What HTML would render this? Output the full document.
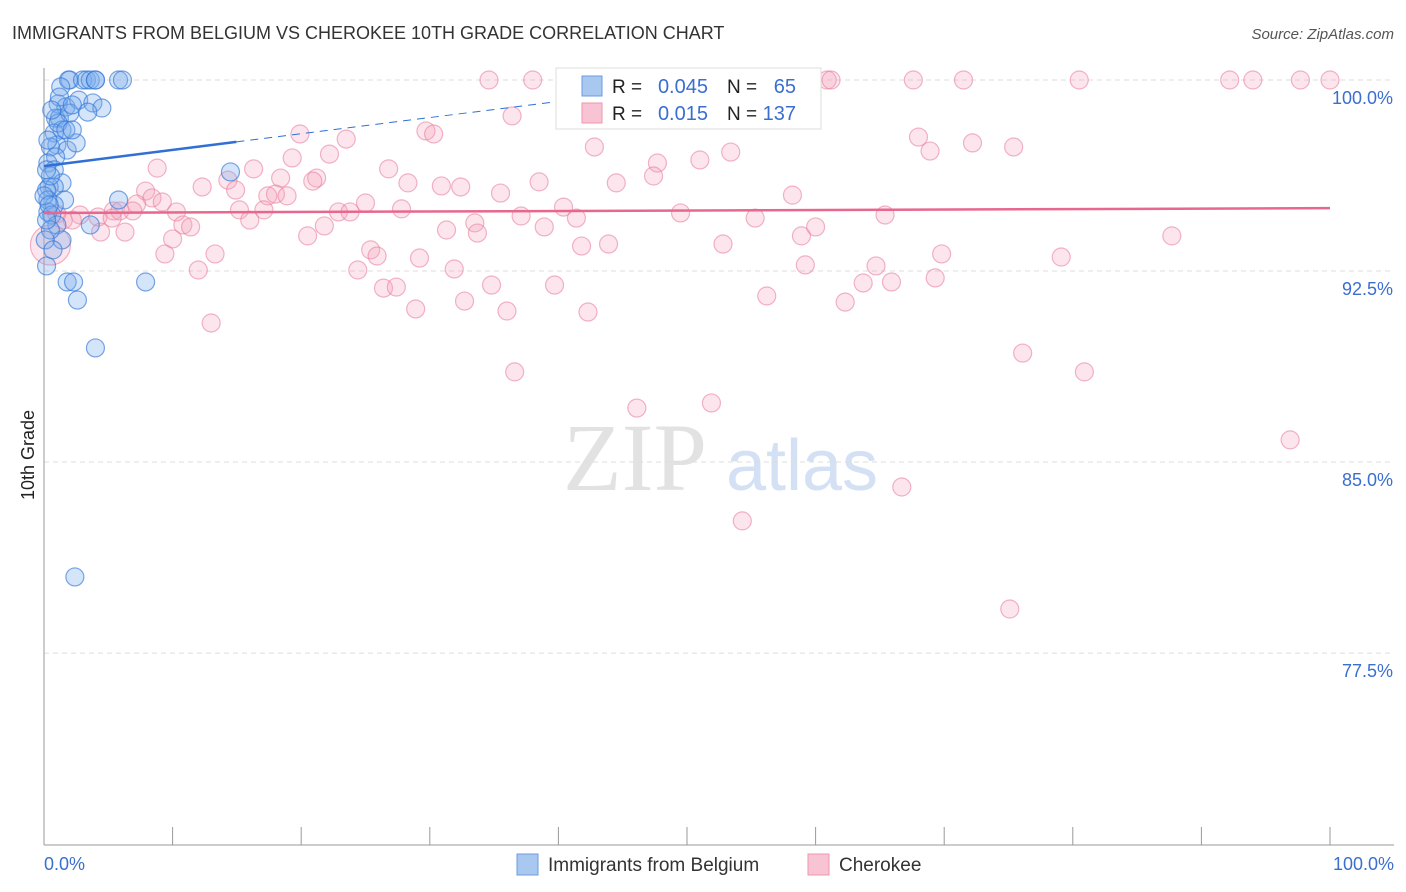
<!DOCTYPE html>
<html><head><meta charset="utf-8"><style>
body{margin:0;background:#fff;font-family:"Liberation Sans",sans-serif;}
svg{display:block}
</style></head><body>
<svg id="chart" width="1406" height="892">
<text x="12" y="39" font-size="18" fill="#333">IMMIGRANTS FROM BELGIUM VS CHEROKEE 10TH GRADE CORRELATION CHART</text>
<text x="1394" y="39" font-size="15" fill="#555" font-style="italic" text-anchor="end">Source: ZipAtlas.com</text>
<g><text x="635" y="490" font-size="96" fill="#e2e2e2" font-family="Liberation Serif,serif" text-anchor="middle">ZIP</text><text x="802" y="490" font-size="72" fill="#d4e1f4" text-anchor="middle">atlas</text></g>
<g id="grid"></g><g id="axes"></g><g id="pts"></g><g id="lines"></g>
<text x="34" y="455" font-size="18" fill="#222" transform="rotate(-90 34 455)" text-anchor="middle">10th Grade</text>
<g>
<rect x="556" y="68" width="265" height="61" fill="#fff" stroke="#ddd"/>
<rect x="582" y="76" width="20" height="20" fill="#a9c8f0" stroke="#6b9be0"/>
<rect x="582" y="103" width="20" height="20" fill="#f8c4d3" stroke="#ee94b0"/>
<text x="612" y="93" font-size="19" fill="#222">R =</text>
<text x="708" y="93" font-size="20" fill="#3a6fd0" text-anchor="end">0.045</text>
<text x="727" y="93" font-size="19" fill="#222">N =</text>
<text x="796" y="93" font-size="20" fill="#3a6fd0" text-anchor="end">65</text>
<text x="612" y="120" font-size="19" fill="#222">R =</text>
<text x="708" y="120" font-size="20" fill="#3a6fd0" text-anchor="end">0.015</text>
<text x="727" y="120" font-size="19" fill="#222">N =</text>
<text x="796" y="120" font-size="20" fill="#3a6fd0" text-anchor="end">137</text>
</g>
<g>
<rect x="517" y="854" width="21" height="21" fill="#a9c8f0" stroke="#6b9be0"/>
<text x="548" y="871" font-size="19" fill="#333">Immigrants from Belgium</text>
<rect x="808" y="854" width="21" height="21" fill="#f8c4d3" stroke="#ee94b0"/>
<text x="839" y="871" font-size="19" fill="#333">Cherokee</text>
</g>
</svg>
<script>
const yTicks=[100,92.5,85,77.5];
const yTickLabels=["100.0%","92.5%","85.0%","77.5%"];
const xTickLabels=["0.0%","100.0%"];
const blueX=[1.9,2.0,3.0,3.3,3.6,4.0,5.8,6.1,1.3,1.1,1.7,2.7,3.8,4.5,0.9,1.2,2.0,3.4,1.4,0.8,1.0,1.8,2.5,0.5,0.9,0.3,0.8,1.4,0.4,0.8,0.2,1.6,0.3,0.8,0.3,0.6,1.0,1.4,3.6,5.8,14.5,0.2,1.8,2.3,2.6,7.9,4.0,2.4,0.5,0.2,0,0.5,1.2,2.2,1.1,0.3,0.2,0.4,4.0,0.6,1.7,0.1,2.2,0.7];
const blueY=[100,100,100,100,100,100,100,100,99.73,99.06,98.94,99.21,99.1,98.9,98.5,98.5,98.7,98.74,98.04,97.92,97.45,97.25,97.53,97.37,96.98,96.74,96.47,95.96,95.8,95.8,95.68,95.29,95.29,95.09,94.82,94.7,94.31,93.72,94.31,95.29,96.39,92.7,92.07,92.07,91.36,92.07,89.48,80.49,94.11,94.5,95.45,96.23,99.33,99.02,98.31,97.64,96.47,95.09,100,98.82,98.04,93.72,98.04,93.33];
const pinkX=[34.6,38.0,48.8,52.3,60.9,61.2,67.6,71.5,80.5,92.2,94.0,97.7,100,36.4,19.9,29.7,30.3,23.5,42.8,22.2,68.0,72.2,75.4,68.9,53.4,51.0,47.7,19.3,16.3,8.8,26.8,47.4,14.3,18.4,21.2,20.9,28.3,30.9,32.4,38.5,44.5,35.5,14.9,12.3,7.9,8.4,17.4,18.0,18.9,58.2,25.0,40.4,7.2,9.2,10.3,22.9,23.8,27.8,15.2,17.1,5.4,5.9,6.9,2.8,4.2,5.3,1.0,1.5,2.2,10.8,11.4,16.0,37.1,41.4,49.5,55.3,65.4,38.9,33.5,31.3,33.7,4.4,6.3,10.0,20.5,21.8,60.0,58.9,41.8,43.9,52.8,87.7,9.4,13.3,25.4,25.9,29.2,31.9,59.2,64.7,69.8,79.1,12.0,24.4,26.4,27.4,34.8,39.7,63.7,65.9,69.3,56.2,32.7,28.9,36.0,42.3,62.3,13.0,76.1,36.6,80.9,46.1,51.9,96.9,66.7,54.3,75.1,0.5];
const pinkY=[100,100,100,100,100,100,100,100,100,100,100,100,100,98.59,97.88,98.0,97.88,97.68,97.37,97.09,97.76,97.53,97.37,97.21,97.17,96.86,96.74,96.94,96.51,96.54,96.51,96.23,96.07,96.15,96.15,96.03,95.96,95.84,95.8,96.0,95.96,95.56,95.68,95.8,95.64,95.37,95.45,95.52,95.45,95.48,95.17,95.01,95.13,95.21,94.82,94.82,94.82,94.94,94.9,94.9,94.86,94.86,94.86,94.7,94.62,94.58,94.74,94.5,94.5,94.31,94.23,94.5,94.66,94.58,94.78,94.58,94.7,94.23,94.39,94.11,93.99,94.03,94.03,93.76,93.88,94.27,94.23,93.88,93.48,93.56,93.56,93.88,93.17,93.17,93.33,93.09,93.01,92.58,92.74,92.7,93.17,93.05,92.54,92.54,91.83,91.87,91.95,91.95,92.03,92.07,92.23,91.52,91.32,91.01,90.93,90.89,91.28,90.46,89.28,88.54,88.54,87.12,87.32,85.87,84.02,82.69,79.23,93.52];
const blueTrend=[96.62,97.57];
const pinkTrend=[94.78,94.97];
const NS="http://www.w3.org/2000/svg";
const X=v=>44+v*12.86, Y=v=>80+(100-v)*25.47;
function mk(tag,attrs,parent){const e=document.createElementNS(NS,tag);for(const k in attrs)e.setAttribute(k,attrs[k]);parent.appendChild(e);return e;}
const grid=document.getElementById('grid'),axes=document.getElementById('axes'),pts=document.getElementById('pts'),lines=document.getElementById('lines');
yTicks.forEach((t,i)=>{const l=mk('line',{x1:44,x2:1394,y1:Y(t),y2:Y(t),stroke:'#ddd','stroke-dasharray':'5,4'},grid);


const tx=mk('text',{x:1393,y:Y(t)+24,'font-size':18,fill:'#3a6fd0','text-anchor':'end'},axes);tx.textContent=yTickLabels[i];

});
const ax=mk('line',{x1:44,x2:44,y1:68,y2:845,stroke:'#999'},axes);


const bx=mk('line',{x1:44,x2:1394,y1:845,y2:845,stroke:'#999'},axes);


for(let i=0;i<=10;i++){const t=mk('line',{x1:X(i*10),x2:X(i*10),y1:827,y2:845,stroke:'#999'},axes);

}
[[0,'start',44],[100,'end',1394]].forEach((d,i)=>{const t=mk('text',{x:d[2],y:870,'font-size':18,fill:'#3a6fd0','text-anchor':d[1]},axes);t.textContent=xTickLabels[i];

});
pinkX.forEach((x,i)=>{const c=mk('circle',{cx:X(x),cy:Y(pinkY[i]),r:i==pinkX.length-1?20:9,fill:'rgba(244,160,186,0.28)',stroke:'rgba(232,120,155,0.55)','stroke-width':1.2},pts);

});
blueX.forEach((x,i)=>{const c=mk('circle',{cx:X(x),cy:Y(blueY[i]),r:9,fill:'rgba(120,170,235,0.32)',stroke:'rgba(50,120,215,0.65)','stroke-width':1.2},pts);

});
const slope=(blueTrend[1]-blueTrend[0])/14.96;
const b1=mk('line',{x1:X(0),y1:Y(blueTrend[0]),x2:X(14.96),y2:Y(blueTrend[1]),stroke:'#2f6fd6','stroke-width':2.5},lines);


const b2=mk('line',{x1:X(14.96),y1:Y(blueTrend[1]),x2:X(42),y2:Y(blueTrend[0]+slope*42),stroke:'#2f6fd6','stroke-width':1,'stroke-dasharray':'8,6'},lines);


const p1=mk('line',{x1:X(0),y1:Y(pinkTrend[0]),x2:X(100),y2:Y(pinkTrend[1]),stroke:'#e8678f','stroke-width':2.5},lines);


</script>
</body></html>
